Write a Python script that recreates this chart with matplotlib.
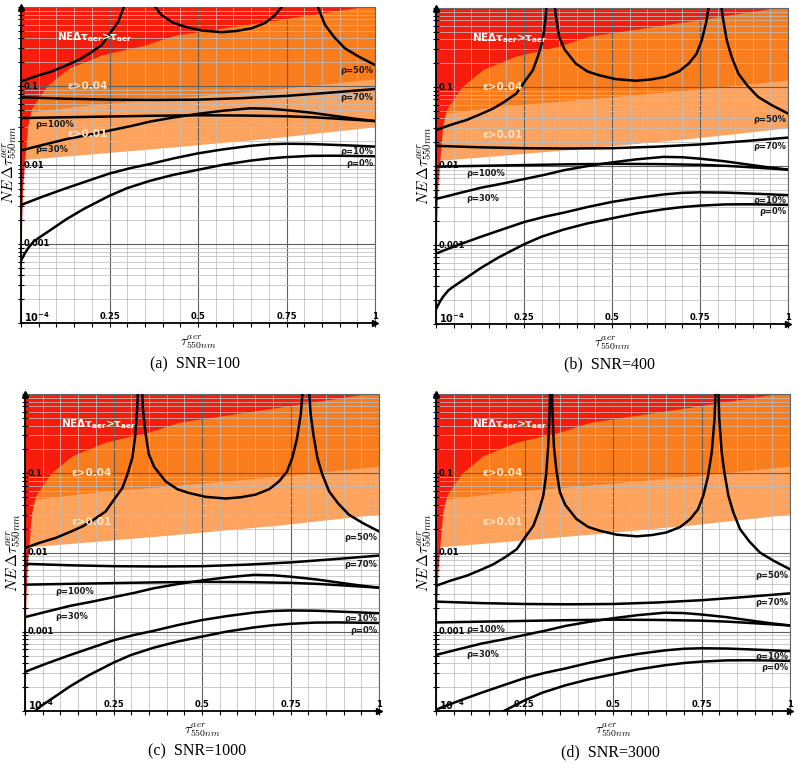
import matplotlib
matplotlib.use("Agg")
import matplotlib.pyplot as plt
from matplotlib.ticker import MultipleLocator, LogLocator, NullFormatter

plt.rcParams['mathtext.fontset'] = 'cm'

# panels
snr_values = [100, 400, 1000, 3000]
panel_tags = ['(a)', '(b)', '(c)', '(d)']
ref_snr = 3000  # curve values below are read at SNR=3000

# shaded zones (identical in all panels)
red_x = [0, 0.0005, 0.002, 0.005, 0.0093, 0.019, 0.030, 0.073, 0.134, 0.228, 0.35, 0.435, 0.718, 0.96, 1.0]
red_y = [1e-4, 0.0005, 0.002, 0.0055, 0.01, 0.032, 0.052, 0.1, 0.167, 0.247, 0.33, 0.44, 0.68, 1.0, 1.0]
eps04_x = [0, 0.048, 0.181, 0.435, 0.718, 1.0]
eps04_y = [0.046, 0.048, 0.057, 0.071, 0.092, 0.123]
eps01_x = [0, 0.011, 0.181, 0.435, 0.718, 1.0]
eps01_y = [0.0115, 0.0118, 0.0136, 0.017, 0.0222, 0.0305]

# noise curves (NE dtau at ref_snr)
rho0_x = [0, 0.01, 0.02, 0.035, 0.05, 0.08, 0.129, 0.18, 0.25, 0.3, 0.364, 0.43, 0.5, 0.57,
          0.647, 0.7, 0.75, 0.82, 0.882, 0.94, 1.0]
rho0_y = [2.05e-5, 2.5e-5, 2.95e-5, 3.55e-5, 3.98e-5, 4.9e-5, 6.9e-5, 9.4e-5, 1.36e-4, 1.7e-4,
          2.1e-4, 2.5e-4, 2.9e-4, 3.35e-4, 3.78e-4, 4.03e-4, 4.2e-4, 4.35e-4, 4.37e-4, 4.34e-4, 4.3e-4]
rho10_x = [0, 0.06, 0.125, 0.19, 0.25, 0.31, 0.364, 0.43, 0.5, 0.57, 0.647, 0.7, 0.75, 0.82,
           0.882, 0.94, 1.0]
rho10_y = [1.04e-4, 1.32e-4, 1.68e-4, 2.11e-4, 2.6e-4, 3.05e-4, 3.43e-4, 4.03e-4, 4.68e-4,
           5.25e-4, 5.82e-4, 6.1e-4, 6.19e-4, 6.14e-4, 6.0e-4, 5.86e-4, 5.7e-4]
rho30_x = [0, 0.06, 0.129, 0.19, 0.25, 0.31, 0.364, 0.43, 0.5, 0.57, 0.647, 0.7, 0.75, 0.82,
           0.882, 0.94, 1.0]
rho30_y = [5.1e-4, 5.96e-4, 7.1e-4, 8.0e-4, 9.1e-4, 1.035e-3, 1.18e-3, 1.33e-3, 1.48e-3,
           1.62e-3, 1.74e-3, 1.72e-3, 1.65e-3, 1.53e-3, 1.40e-3, 1.29e-3, 1.2e-3]
rho50_x = [0, 0.04, 0.087, 0.125, 0.162, 0.195, 0.228, 0.25, 0.275, 0.29, 0.303, 0.311, 0.317,
           0.321, 0.323, 0.325, 0.327, 0.329, 0.333, 0.34, 0.35, 0.365, 0.397, 0.43, 0.463, 0.51,
           0.567, 0.61, 0.651, 0.69, 0.718, 0.74, 0.755, 0.768, 0.779, 0.787, 0.791, 0.794,
           0.797, 0.80, 0.807, 0.815, 0.826, 0.84, 0.859, 0.885, 0.915, 0.955, 1.0]
rho50_y = [0.0038, 0.0044, 0.0051, 0.006, 0.0071, 0.0087, 0.011, 0.0152, 0.0217, 0.033, 0.052,
           0.095, 0.22, 0.6, 1.5, 5.0, 1.5, 0.6, 0.22, 0.11, 0.0575, 0.04, 0.0264, 0.021, 0.0188,
           0.0168, 0.016, 0.0166, 0.0179, 0.021, 0.0264, 0.035, 0.052, 0.09, 0.185, 0.5, 1.5, 5.0,
           1.5, 0.5, 0.185, 0.1, 0.052, 0.032, 0.0197, 0.0138, 0.01, 0.0078, 0.00615]
rho70_x = [0, 0.125, 0.25, 0.375, 0.5, 0.625, 0.75, 0.875, 1.0]
rho70_y = [2.4e-3, 2.3e-3, 2.24e-3, 2.22e-3, 2.24e-3, 2.34e-3, 2.5e-3, 2.75e-3, 3.05e-3]
rho100_x = [0, 0.125, 0.25, 0.375, 0.5, 0.625, 0.75, 0.825, 0.9, 1.0]
rho100_y = [1.31e-3, 1.34e-3, 1.37e-3, 1.40e-3, 1.42e-3, 1.41e-3, 1.38e-3, 1.34e-3, 1.28e-3, 1.2e-3]

curves = [(rho0_x, rho0_y), (rho10_x, rho10_y), (rho30_x, rho30_y),
          (rho50_x, rho50_y), (rho70_x, rho70_y), (rho100_x, rho100_y)]

right_labels = ['ρ=50%', 'ρ=70%', 'ρ=10%', 'ρ=0%']
right_label_y = [0.0052, 0.00237, 0.00049, 0.00035]
left_labels = ['ρ=100%', 'ρ=30%']
left_label_y = [0.00107, 0.00052]
left_label_x = [0.04, 0.085, 0.085, 0.085]

ytick_vals = [0.1, 0.01, 0.001]
ytick_text = ['0.1', '0.01', '0.001']
xtick_vals = [0.25, 0.5, 0.75, 1.0]
xtick_text = ['0.25', '0.5', '0.75', '1']

c_red = '#f81c0c'
c_dark = '#f97c1d'
c_light = '#fca35f'
c_note = '#fbe6c8'

# axes boxes in pixels: left, top, right, bottom
boxes = [(21, 7, 375, 323), (436, 8, 788, 324), (25, 394, 379, 711), (436, 394, 790, 711)]
captions_xy = [(195, 364), (609, 364), (197, 751), (610, 752)]

W, H = 798, 765
fig = plt.figure(figsize=(W / 100, H / 100), dpi=100)

for i, snr in enumerate(snr_values):
    l, t, r, b = boxes[i]
    ax = fig.add_axes([l / W, 1 - b / H, (r - l) / W, (b - t) / H])
    ax.set_yscale('log')
    ax.set_xlim(0, 1)
    ax.set_ylim(1e-4, 1)

    ax.fill_between(eps01_x, eps01_y, 1, color=c_light, lw=0)
    ax.fill_between(eps04_x, eps04_y, 1, color=c_dark, lw=0)
    ax.fill_between(red_x, red_y, 1, color=c_red, lw=0)

    ax.xaxis.set_major_locator(MultipleLocator(0.25))
    ax.xaxis.set_minor_locator(MultipleLocator(0.05))
    ax.yaxis.set_major_locator(LogLocator(base=10, numticks=10))
    ax.yaxis.set_minor_locator(LogLocator(base=10, subs=range(2, 10), numticks=20))
    for axis in [ax.xaxis, ax.yaxis]:
        axis.set_major_formatter(NullFormatter())
        axis.set_minor_formatter(NullFormatter())
    ax.grid(which='major', color='#606060', lw=0.8)
    ax.grid(which='minor', color='#bdbdbd', lw=0.55)
    ax.tick_params(which='both', axis='x', direction='out', length=3, width=0.8)
    ax.tick_params(which='both', axis='y', direction='inout', length=4, width=0.8)

    scale = ref_snr / snr
    for cx, cy in curves:
        ax.plot(cx, [v * scale for v in cy], color='black', lw=1.8, zorder=3)

    for txt, yv in zip(right_labels, right_label_y):
        ax.text(0.995, yv * scale, txt, ha='right', va='center', fontsize=6,
                fontweight='bold', color='#1a1a1a', zorder=4)
    for txt, yv in zip(left_labels, left_label_y):
        ax.text(left_label_x[i], yv * scale, txt, ha='left', va='center', fontsize=6,
                fontweight='bold', color='#1a1a1a', zorder=4)

    ax.text(0.103, 0.42, r'NEΔτ$_{\mathbf{aer}}$>τ$_{\mathbf{aer}}$', color='white',
            fontsize=7.5, fontweight='bold', math_fontfamily='dejavusans',
            ha='left', va='center', zorder=4)
    ax.text(0.132, 0.1, 'ε>0.04', color=c_note, fontsize=7.5, fontweight='bold',
            ha='left', va='center', zorder=4)
    ax.text(0.132, 0.0245, 'ε>0.01', color=c_note, fontsize=7.5, fontweight='bold',
            ha='left', va='center', zorder=4)

    ytr = ax.get_yaxis_transform()
    for yv, txt in zip(ytick_vals, ytick_text):
        ax.text(0.008, yv, txt, transform=ytr, ha='left', va='center', fontsize=6,
                fontweight='bold', zorder=4)
    xtr = ax.get_xaxis_transform()
    ax.text(0.008, 0.02, r'$\mathbf{10^{-4}}$', transform=ax.transAxes, ha='left',
            va='center', fontsize=7, math_fontfamily='dejavusans', zorder=4)
    for xv, txt in zip(xtick_vals, xtick_text):
        ax.text(xv, 0.02, txt, transform=xtr, ha='center', va='center', fontsize=6,
                fontweight='bold', zorder=4)

    for side in ['top', 'right']:
        ax.spines[side].set_color('#666666')
        ax.spines[side].set_linewidth(0.8)
    for side in ['left', 'bottom']:
        ax.spines[side].set_color('black')
        ax.spines[side].set_linewidth(1.3)
    ax.plot([0], [1], marker='^', color='black', markersize=4, transform=ax.transAxes, clip_on=False, zorder=5)
    ax.plot([1], [0], marker='>', color='black', markersize=4, transform=ax.transAxes, clip_on=False, zorder=5)

    ax.set_xlabel(r'$\tau^{aer}_{550nm}$', fontsize=10, labelpad=1)
    ax.set_ylabel(r'$NE\,\Delta\tau^{aer}_{550nm}$', fontsize=11)
    ax.yaxis.set_label_coords(-0.006, 0.5)

    cx, cy = captions_xy[i]
    fig.text(cx / W, 1 - cy / H, panel_tags[i] + '  SNR=' + str(snr), ha='center', va='center',
             fontsize=11.5, family='Liberation Serif')

fig.savefig('out.png', dpi=100)
